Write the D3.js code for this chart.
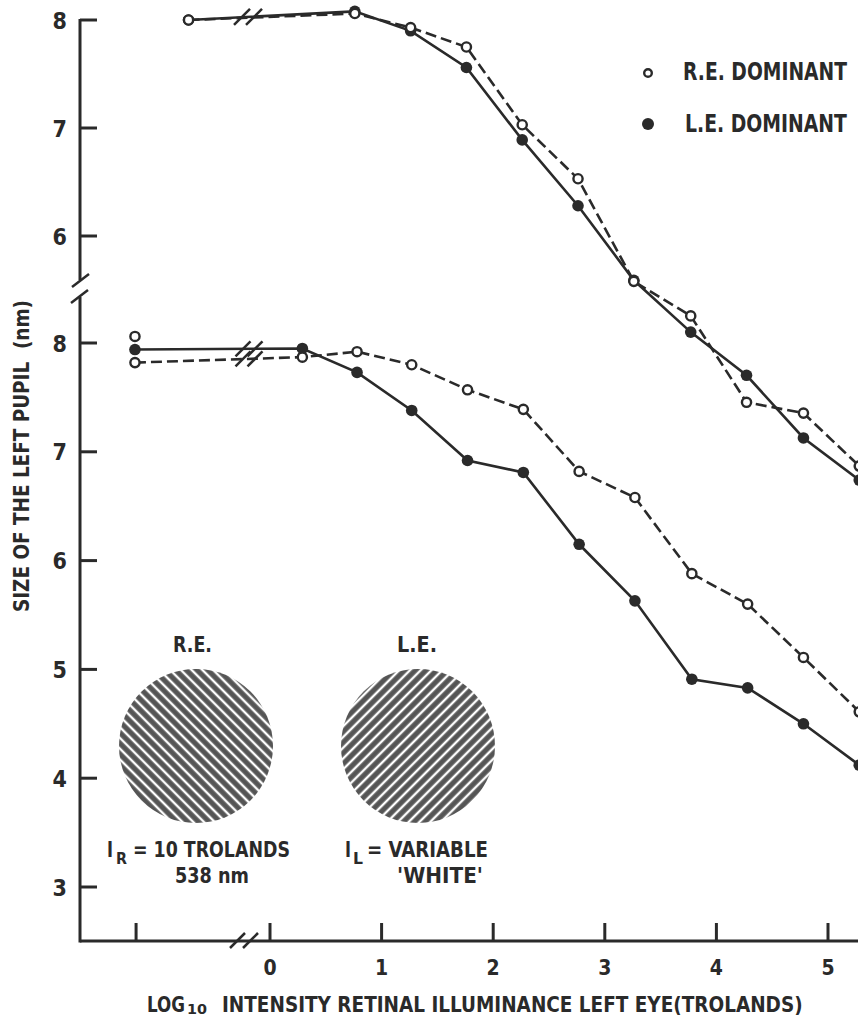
<!DOCTYPE html>
<html><head><meta charset="utf-8">
<script src="https://cdn.jsdelivr.net/npm/d3@7"></script>
<style>
html,body{margin:0;padding:0;background:#fff;}
svg{display:block;}
text{font-family:"DejaVu Sans Condensed","DejaVu Sans",sans-serif;font-weight:bold;font-stretch:condensed;fill:#2a2a2a;}
</style></head>
<body>
<script>
// ---------- data ----------
const xTickValues = [0, 1, 2, 3, 4, 5];
const darkTickX = -1.2;               // unlabelled tick left of the axis break
const xUpper = [-0.73, 0.76, 1.26, 1.76, 2.26, 2.76, 3.26, 3.77, 4.27, 4.78, 5.28];
const upperOpen   = [8.00, 8.06, 7.93, 7.75, 7.03, 6.53, 5.58, 5.26, 4.46, 4.36, 3.87];
const upperFilled = [8.00, 8.08, 7.90, 7.56, 6.89, 6.28, 5.59, 5.11, 4.71, 4.13, 3.74];
const xLower = [-1.21, 0.29, 0.78, 1.27, 1.77, 2.27, 2.77, 3.27, 3.78, 4.28, 4.78, 5.28];
const lowerOpen   = [7.82, 7.87, 7.92, 7.80, 7.57, 7.39, 6.82, 6.58, 5.88, 5.60, 5.11, 4.61];
const lowerFilled = [7.94, 7.95, 7.73, 7.38, 6.92, 6.81, 6.15, 5.63, 4.91, 4.83, 4.50, 4.12];
const lowerExtraOpen = {x: -1.21, y: 8.06};
const upperYTicks = [6, 7, 8];
const lowerYTicks = [3, 4, 5, 6, 7, 8];
const legendLabels = ["R.E.  DOMINANT", "L.E.  DOMINANT"];

// ---------- setup ----------
const W = 858, H = 1019, ink = "#2a2a2a";
const svg = d3.select("body").append("svg").attr("width", W).attr("height", H);

const x = d3.scaleLinear().domain([0, 5]).range([270, 828]);
const yU = d3.scaleLinear().domain([6, 8]).range([236, 20]);
const yL = d3.scaleLinear().domain([3, 8]).range([887, 343]);
const axisX = 80, axisY = 941;

// text squeezed horizontally to a target width (keeps tall, condensed look)
function fitText(xp, yp, s, size, len, rotate) {
  const t = svg.append("text").attr("font-size", size).text(s);
  const w = t.node().getComputedTextLength();
  const sx = len ? len / w : 1;
  if (rotate) {
    t.attr("text-anchor", "middle")
     .attr("transform", `translate(${xp},${yp}) rotate(${rotate}) scale(${sx},1)`);
  } else {
    t.attr("transform", `translate(${xp},${yp}) scale(${sx},1)`);
  }
  return t;
}

// hatch patterns
const defs = svg.append("defs");
function hatch(id, angle) {
  const p = defs.append("pattern").attr("id", id).attr("patternUnits", "userSpaceOnUse")
    .attr("width", 7.6).attr("height", 10).attr("patternTransform", `rotate(${angle})`);
  p.append("rect").attr("width", 7.6).attr("height", 10).attr("fill", "#555");
  p.append("line").attr("x1", 3.8).attr("x2", 3.8).attr("y1", 0).attr("y2", 10)
    .attr("stroke", "#fff").attr("stroke-width", 2.4);
}
hatch("hRE", -45);
hatch("hLE", 45);

// ---------- axes ----------
const g = svg.append("g").attr("stroke", ink).attr("stroke-width", 3).attr("fill", "none");
g.append("line").attr("x1", axisX).attr("x2", axisX).attr("y1", yU(8) - 1).attr("y2", 280);
g.append("line").attr("x1", axisX).attr("x2", axisX).attr("y1", 297).attr("y2", axisY + 1.5);
g.append("line").attr("x1", 72).attr("y1", 287).attr("x2", 89).attr("y2", 274).attr("stroke-width", 2.5);
g.append("line").attr("x1", 71).attr("y1", 303).attr("x2", 88).attr("y2", 290).attr("stroke-width", 2.5);
g.append("line").attr("x1", axisX).attr("x2", W).attr("y1", axisY).attr("y2", axisY);
g.append("line").attr("x1", 230).attr("y1", 948).attr("x2", 245).attr("y2", 933).attr("stroke-width", 2.5);
g.append("line").attr("x1", 243).attr("y1", 948).attr("x2", 258).attr("y2", 933).attr("stroke-width", 2.5);

upperYTicks.forEach(v => {
  g.append("line").attr("x1", axisX).attr("x2", axisX + 17).attr("y1", yU(v)).attr("y2", yU(v));
  svg.append("text").attr("x", 67).attr("y", yU(v) + 8.5).attr("text-anchor", "end")
    .attr("font-size", 23).text(v);
});
lowerYTicks.forEach(v => {
  g.append("line").attr("x1", axisX).attr("x2", axisX + 17).attr("y1", yL(v)).attr("y2", yL(v));
  svg.append("text").attr("x", 67).attr("y", yL(v) + 8.5).attr("text-anchor", "end")
    .attr("font-size", 23).text(v);
});
[darkTickX].concat(xTickValues).forEach(v => {
  g.append("line").attr("x1", x(v)).attr("x2", x(v)).attr("y1", axisY).attr("y2", axisY - 18);
});
xTickValues.forEach(v => {
  svg.append("text").attr("x", x(v)).attr("y", 975).attr("text-anchor", "middle")
    .attr("font-size", 21).text(v);
});

// axis titles
fitText(29, 456, "SIZE OF THE LEFT PUPIL\u00a0\u00a0(nm)", 21, 312, -90);
fitText(147, 1012, "LOG", 22, 38);
fitText(187, 1014, "10", 14, 20);
fitText(222, 1012, "INTENSITY  RETINAL  ILLUMINANCE  LEFT  EYE(TROLANDS)", 22, 581);

// ---------- series ----------
const line = d3.line();
const dl = svg.append("g").attr("fill", "none").attr("stroke", ink).attr("stroke-width", 2.6);
function series(xs, ys, yS, dashed) {
  dl.append("path").attr("d", line(xs.map((d, i) => [x(d), yS(ys[i])])))
    .attr("stroke-dasharray", dashed ? "11,5" : null);
}
series(xUpper, upperOpen, yU, true);
series(xUpper, upperFilled, yU, false);
series(xLower, lowerOpen, yL, true);
series(xLower, lowerFilled, yL, false);

function lineBreak(cx, cy, h) {
  [-6, 6].forEach(dx => {
    dl.append("line").attr("x1", cx + dx - h * 0.5).attr("y1", cy + h * 0.5)
      .attr("x2", cx + dx + h * 0.5).attr("y2", cy - h * 0.5).attr("stroke-width", 2.5);
  });
}
function lerpAt(xs, ys, xv) {
  for (let i = 0; i < xs.length - 1; i++) {
    if (xv >= xs[i] && xv <= xs[i + 1]) {
      const t = (xv - xs[i]) / (xs[i + 1] - xs[i]);
      return ys[i] + t * (ys[i + 1] - ys[i]);
    }
  }
  return ys[0];
}
const bxU = x.invert(248), bxL = x.invert(249);
lineBreak(248, yU(lerpAt(xUpper, upperFilled, bxU)), 16);
lineBreak(249, yL(lerpAt(xLower, lowerFilled, bxL)), 15);
lineBreak(249, yL(lerpAt(xLower, lowerOpen, bxL)), 15);

const mk = svg.append("g");
function markers(xs, ys, yS, open) {
  xs.forEach((d, i) => {
    mk.append("circle").attr("cx", x(d)).attr("cy", yS(ys[i]))
      .attr("r", open ? 4.6 : 5.8)
      .attr("fill", open ? "#fff" : ink)
      .attr("stroke", ink).attr("stroke-width", open ? 2.4 : 0);
  });
}
markers(xUpper, upperFilled, yU, false);
markers(xUpper, upperOpen, yU, true);
markers(xLower, lowerFilled, yL, false);
markers(xLower, lowerOpen, yL, true);
markers([lowerExtraOpen.x], [lowerExtraOpen.y], yL, true);

// ---------- legend ----------
mk.append("circle").attr("cx", 648).attr("cy", 73).attr("r", 3.8).attr("fill", "#fff")
  .attr("stroke", ink).attr("stroke-width", 2.4);
mk.append("circle").attr("cx", 648).attr("cy", 124).attr("r", 6).attr("fill", ink);
fitText(683, 80, legendLabels[0], 25, 164);
fitText(685, 132, legendLabels[1], 25, 162);

// ---------- inset ----------
svg.append("circle").attr("cx", 196).attr("cy", 746).attr("r", 77).attr("fill", "url(#hRE)");
svg.append("circle").attr("cx", 418).attr("cy", 746).attr("r", 77).attr("fill", "url(#hLE)");
fitText(173, 652, "R.E.", 21, 39);
fitText(397, 652, "L.E.", 21, 40);
fitText(107, 857, "I", 21, 6);
fitText(116, 864, "R", 16, 11);
fitText(133, 857, "= 10 TROLANDS", 21, 157);
fitText(175, 883, "538 nm", 21, 74);
fitText(345, 857, "I", 21, 6);
fitText(353, 864, "L", 16, 10);
fitText(367, 857, "= VARIABLE", 21, 121);
fitText(397, 883, "'WHITE'", 21, 86);
</script>
</body></html>
